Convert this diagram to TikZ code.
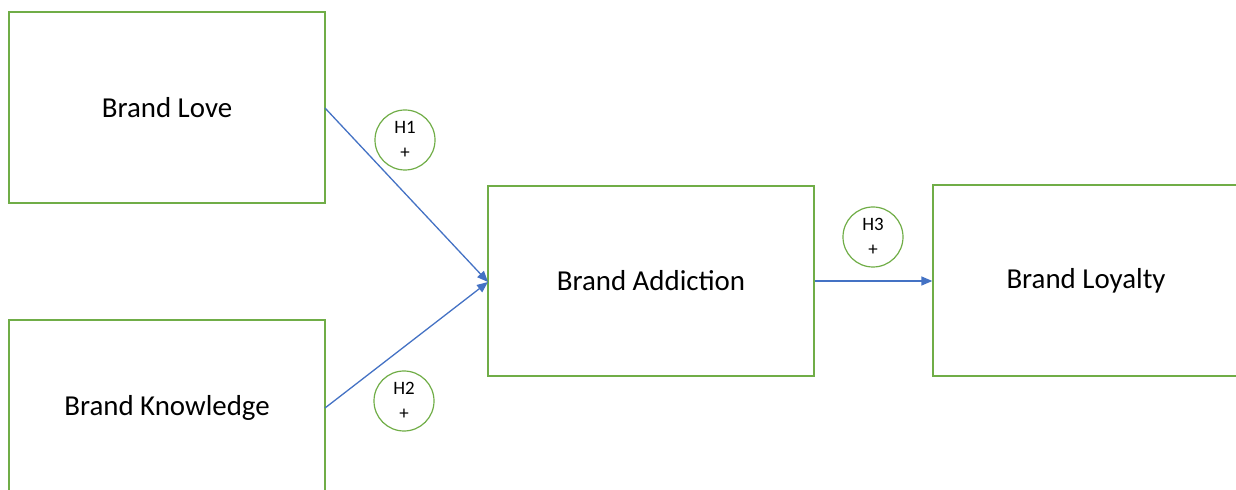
\documentclass[tikz,border=0pt]{standalone}
\usepackage{fontspec}
\setmainfont{Carlito}
\usetikzlibrary{arrows.meta}
\definecolor{boxgreen}{HTML}{70AD47}
\definecolor{linkblue}{HTML}{4472C4}
\tikzset{
  construct/.style={draw=boxgreen, line width=1.3bp, fill=white, inner sep=0pt,
    font=\fontsize{29}{34}\selectfont},
  hyp/.style={draw=boxgreen, line width=1.2bp, circle, minimum size=60bp, inner sep=0pt,
    align=center, font=\fontsize{19}{25}\selectfont},
  link/.style={draw=linkblue, line width=1.3bp, -{Triangle[length=11bp,width=9bp]}}
}
\begin{document}
\begin{tikzpicture}[x=1bp, y=-1bp]
  \useasboundingbox (0,0) rectangle (1236,490);
  \clip (0,0) rectangle (1236,490);
  % constructs
  \node[construct, minimum width=316bp, minimum height=191bp] (love) at (167,107.5) {Brand Love};
  \node[construct, minimum width=316bp, minimum height=176bp] (know) at (167,408) {Brand Knowledge};
  \node[construct, minimum width=326bp, minimum height=190bp] (addict) at (651,281) {Brand Addiction};
  \node[construct, minimum width=306bp, minimum height=191bp] (loyal) at (1086,280.5) {Brand Loyalty};
  % hypotheses
  \node[hyp] (h1) at (405,140) {H1\\+};
  \node[hyp] (h2) at (404,401) {H2\\+};
  \node[hyp] (h3) at (873,237) {H3\\+};
  % paths
  \coordinate (loveout) at (325,108);
  \coordinate (knowout) at (325,408);
  \coordinate (addin) at (488,282);
  \draw[link] (loveout) -- (addin);
  \draw[link] (knowout) -- (addin);
  \draw[link] (addict.east) -- (loyal.west |- addict.east);
\end{tikzpicture}
\end{document}
